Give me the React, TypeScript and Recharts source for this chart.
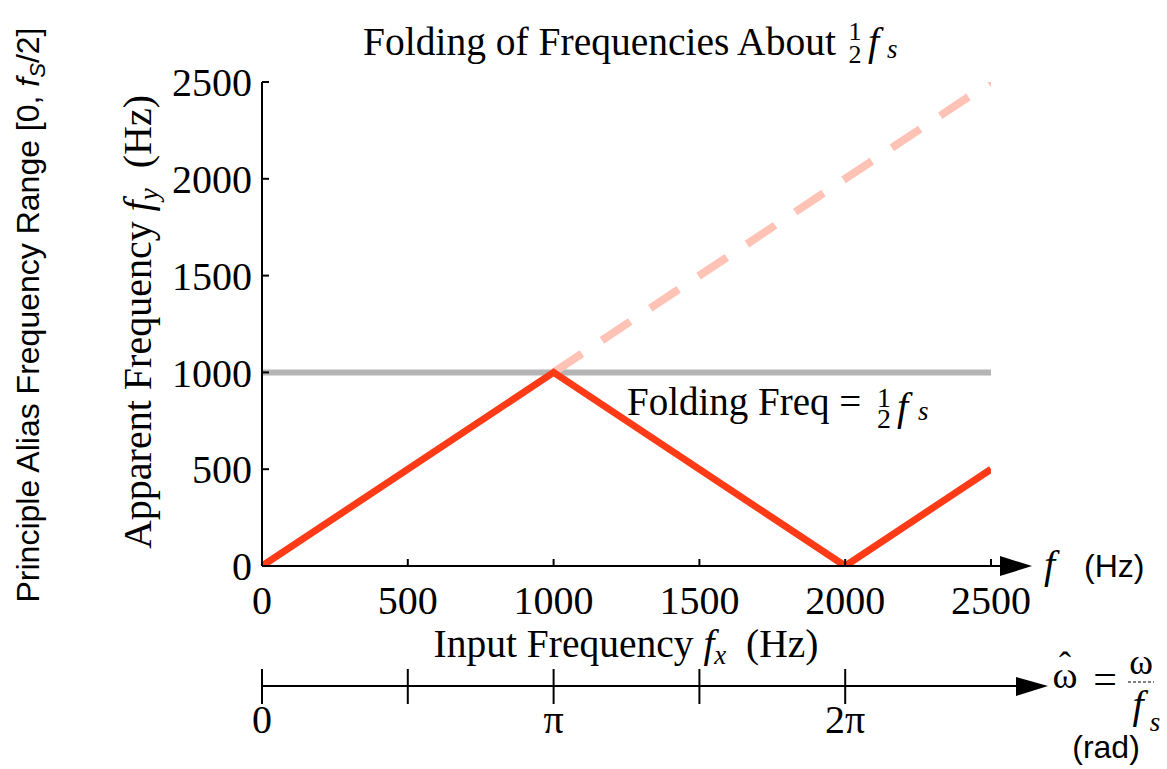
import { LineChart, Line, XAxis, YAxis, ReferenceLine } from 'recharts';

// input frequency f_x (Hz) vs apparent frequency f_y (Hz), fs = 2000 Hz
const inputFreq = [0, 1000, 2000, 2500];
const apparentFreq = [0, 1000, 0, 500];
// unfolded alias f_y = f_x above the folding frequency
const unfoldedX = [1000, 2500];
const unfoldedY = [1000, 2500];
const foldingFreq = 1000;

const freqTicks = [0, 500, 1000, 1500, 2000, 2500];
const omegaTicks = [0, 500, 1000, 1500, 2000];
const omegaLabels = ['0', '', 'π', '', '2π'];

const apparentData = inputFreq.map((f, i) => ({ fx: f, fy: apparentFreq[i] }));
const unfoldedData = unfoldedX.map((f, i) => ({ fx: f, fy: unfoldedY[i] }));

const W = 1167;
const H = 769;
const SERIF = '"Liberation Serif", "Times New Roman", serif';
const SANS = '"Liberation Sans", Arial, sans-serif';
const AXIS = { stroke: '#000', strokeWidth: 2 };
const TICK = { fill: '#000', fontFamily: SERIF, fontSize: 40 };

// radian axis: ticks cross the line, labels below
function renderOmegaTick(props: any) {
  const { x, y, payload } = props;
  const label = omegaLabels[omegaTicks.indexOf(payload.value)];
  return (
    <g key={`omega-${payload.value}`}>
      <line x1={x} x2={x} y1={y - 17} y2={y + 18} stroke="#000" strokeWidth={2} />
      <text x={x} y={y + 47} textAnchor="middle" fontFamily={SERIF} fontSize={40} fill="#000">
        {label}
      </text>
    </g>
  );
}

function Overlay() {
  return (
    <svg width={W} height={H} style={{ position: 'absolute', left: 0, top: 0, pointerEvents: 'none' }}>
      {/* title */}
      <text x={363} y={55} fontFamily={SERIF} fontSize={39.5} fill="#000">Folding of Frequencies About</text>
      <text x={855} y={40} fontFamily={SERIF} fontSize={26} textAnchor="middle">1</text>
      <text x={855} y={63} fontFamily={SERIF} fontSize={26} textAnchor="middle">2</text>
      <text x={868} y={55} fontFamily={SERIF} fontSize={40} fontStyle="italic">f</text>
      <text x={887} y={58} fontFamily={SERIF} fontSize={27} fontStyle="italic">s</text>

      {/* folding frequency annotation */}
      <text x={627} y={415} fontFamily={SERIF} fontSize={39} fill="#000">Folding Freq =</text>
      <text x={884} y={407} fontFamily={SERIF} fontSize={28} textAnchor="middle">1</text>
      <text x={884} y={428} fontFamily={SERIF} fontSize={28} textAnchor="middle">2</text>
      <text x={897} y={420} fontFamily={SERIF} fontSize={40} fontStyle="italic">f</text>
      <text x={918} y={420} fontFamily={SERIF} fontSize={27} fontStyle="italic">s</text>

      {/* y axis labels */}
      <text transform="translate(151,322) rotate(-90)" textAnchor="middle" fontFamily={SERIF} fontSize={40} fill="#000" style={{ whiteSpace: 'pre' }}>
        Apparent Frequency <tspan fontStyle="italic">f</tspan>
        <tspan fontStyle="italic" fontSize={27} dy={7}>y</tspan>
        <tspan dy={-7}>{'  (Hz)'}</tspan>
      </text>
      <text transform="translate(39,315) rotate(-90)" textAnchor="middle" fontFamily={SANS} fontSize={32} fill="#000">
        Principle Alias Frequency Range [0, <tspan fontStyle="italic">f</tspan>
        <tspan fontStyle="italic" fontSize={22} dy={6}>S</tspan>
        <tspan dy={-6}>/2]</tspan>
      </text>

      {/* x axis label */}
      <text x={626} y={657} textAnchor="middle" fontFamily={SERIF} fontSize={39.5} fill="#000" style={{ whiteSpace: 'pre' }}>
        Input Frequency <tspan fontStyle="italic">f</tspan>
        <tspan fontStyle="italic" fontSize={27} dy={7}>x</tspan>
        <tspan dy={-7}>{'  (Hz)'}</tspan>
      </text>

      {/* frequency axis arrow */}
      <line x1={990} x2={1004} y1={566} y2={566} stroke="#000" strokeWidth={2} />
      <polygon points="1000,556 1032,566 1000,576" fill="#000" />
      <text x={1044} y={578} fontFamily={SERIF} fontSize={40} fontStyle="italic">f</text>
      <text x={1084} y={577} fontFamily={SANS} fontSize={32}>(Hz)</text>

      {/* omega axis arrow and ω̂ = ω / fs */}
      <line x1={990} x2={1020} y1={686} y2={686} stroke="#000" strokeWidth={2} />
      <polygon points="1016,677 1048,686 1016,696" fill="#000" />
      <text x={1065} y={688} textAnchor="middle" fontFamily={SERIF} fontSize={38}>ω</text>
      <text x={1065} y={677} textAnchor="middle" fontFamily={SERIF} fontSize={36}>ˆ</text>
      <text x={1105} y={693} textAnchor="middle" fontFamily={SERIF} fontSize={42}>=</text>
      <text x={1141} y={674} textAnchor="middle" fontFamily={SERIF} fontSize={36}>ω</text>
      <line x1={1128} x2={1154} y1={682} y2={682} stroke="#000" strokeWidth={1} strokeDasharray="3 2" />
      <text x={1138} y={718} textAnchor="middle" fontFamily={SERIF} fontSize={40} fontStyle="italic">f</text>
      <text x={1155} y={731} textAnchor="middle" fontFamily={SERIF} fontSize={27} fontStyle="italic">s</text>
      <text x={1106} y={758} textAnchor="middle" fontFamily={SANS} fontSize={32}>(rad)</text>
    </svg>
  );
}

export default function App() {
  return (
    <div style={{ position: 'absolute', left: 0, top: 0, width: W, height: H, background: '#fff' }}>
      <LineChart
        width={W}
        height={H}
        margin={{ top: 82, right: 176, left: 162, bottom: 43 }}
      >
        <XAxis
          type="number"
          dataKey="fx"
          domain={[0, 2500]}
          ticks={freqTicks}
          interval={0}
          height={120}
          axisLine={AXIS}
          tickLine={AXIS}
          tickSize={-7}
          tickMargin={27}
          tick={TICK}
          allowDataOverflow
        />
        <XAxis
          xAxisId="omega"
          type="number"
          dataKey="fx"
          domain={[0, 2500]}
          ticks={omegaTicks}
          interval={0}
          height={40}
          axisLine={AXIS}
          tickLine={false}
          tickSize={0}
          tickMargin={0}
          tick={renderOmegaTick}
        />
        <XAxis
          xAxisId="top"
          orientation="top"
          type="number"
          dataKey="fx"
          domain={[0, 2500]}
          ticks={freqTicks}
          interval={0}
          height={0}
          axisLine={AXIS}
          tickLine={AXIS}
          tickSize={-7}
          tick={false}
        />
        <YAxis
          type="number"
          domain={[0, 2500]}
          ticks={freqTicks}
          interval={0}
          width={100}
          axisLine={AXIS}
          tickLine={AXIS}
          tickSize={-7}
          tickMargin={17}
          tick={TICK}
          allowDataOverflow
        />
        <YAxis
          yAxisId="right"
          orientation="right"
          type="number"
          domain={[0, 2500]}
          ticks={freqTicks}
          interval={0}
          width={0}
          axisLine={AXIS}
          tickLine={AXIS}
          tickSize={-7}
          tick={false}
        />
        <ReferenceLine y={foldingFreq} stroke="#b4b4b4" strokeWidth={6} />
        {/* unstroked copies so the radian, top and right axes get scales and ticks */}
        <Line
          data={apparentData}
          dataKey="fy"
          xAxisId="omega"
          stroke="none"
          dot={false}
          activeDot={false}
          isAnimationActive={false}
        />
        <Line
          data={apparentData}
          dataKey="fy"
          xAxisId="top"
          yAxisId="right"
          stroke="none"
          dot={false}
          activeDot={false}
          isAnimationActive={false}
        />
        <Line
          data={unfoldedData}
          dataKey="fy"
          type="linear"
          stroke="#ffc3b6"
          strokeWidth={8}
          strokeDasharray="34 24"
          dot={false}
          activeDot={false}
          isAnimationActive={false}
        />
        <Line
          data={apparentData}
          dataKey="fy"
          type="linear"
          stroke="#ff3b17"
          strokeWidth={7}
          dot={false}
          activeDot={false}
          isAnimationActive={false}
        />
      </LineChart>
      <Overlay />
    </div>
  );
}
